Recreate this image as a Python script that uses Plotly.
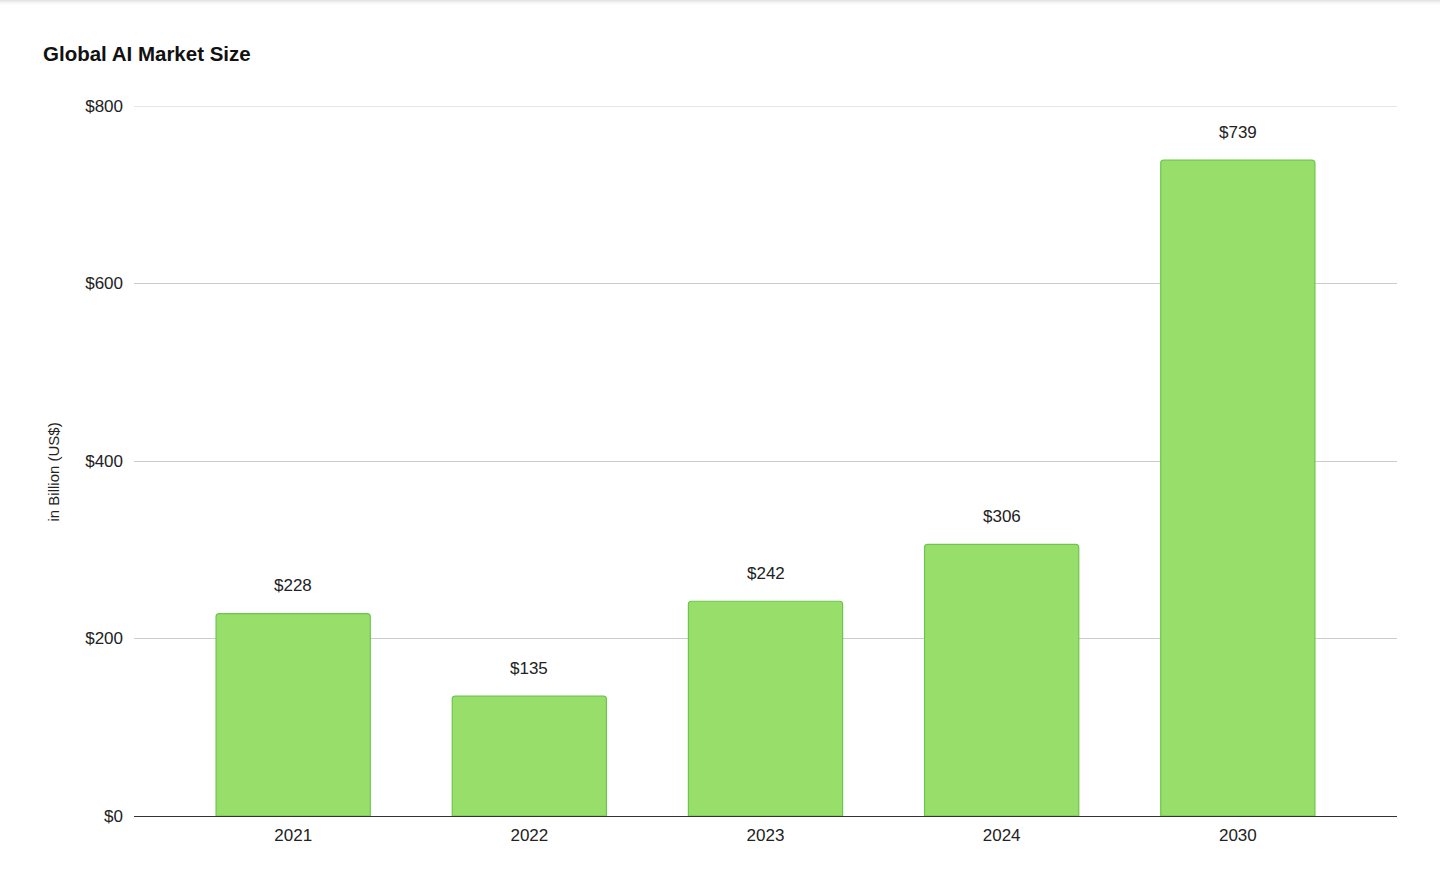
import plotly.graph_objects as go

# data
years = ["2021", "2022", "2023", "2024", "2030"]
market_size = [228, 135, 242, 306, 739]
tick_vals = [0, 200, 400, 600, 800]
tick_text = ["$0", "$200", "$400", "$600", "$800"]

font_name = "Liberation Sans, Arial, sans-serif"

fig = go.Figure()
fig.add_trace(go.Bar(
    x=years,
    y=market_size,
    marker=dict(color="#97de6a", line=dict(color="#6cc64b", width=1.2), cornerradius=3),
    width=0.653,
    hoverinfo="x+y",
))

# value labels above each bar (category index, so "2021" is not read as a number)
for i, val in enumerate(market_size):
    fig.add_annotation(
        x=i, y=val, text=f"${val}", showarrow=False,
        yanchor="middle", yshift=28,
        font=dict(family=font_name, size=17, color="#222222"),
    )

# y axis title
fig.add_annotation(
    xref="paper", yref="paper", x=-0.0645, y=0.4845, xanchor="center", yanchor="middle",
    text="in Billion (US$)", textangle=-90, showarrow=False,
    font=dict(family=font_name, size=15, color="#222222"),
)

# top gridline drawn as a shape so it is not dropped at the range edge
fig.add_shape(
    type="line", xref="paper", yref="y", x0=0, x1=1, y0=800, y1=800,
    line=dict(color="#cccccc", width=1), layer="below",
)

# faint shadow along the top edge of the page
for i, op in enumerate([0.10, 0.07, 0.045, 0.025, 0.01]):
    fig.add_shape(
        type="line", xref="paper", yref="paper",
        x0=-1, x1=2, y0=1 + (106 - i - 0.5) / 710, y1=1 + (106 - i - 0.5) / 710,
        line=dict(color=f"rgba(0,0,0,{op})", width=1),
    )

fig.update_layout(
    width=1440,
    height=889,
    paper_bgcolor="white",
    plot_bgcolor="white",
    margin=dict(l=134, r=43, t=106, b=73),
    title=dict(
        text="<b>Global AI Market Size</b>",
        x=43 / 1440, xanchor="left", xref="container",
        y=1 - 54 / 889, yanchor="middle", yref="container",
        font=dict(family=font_name, size=20.5, color="#111111"),
    ),
    font=dict(family=font_name, size=17, color="#222222"),
    showlegend=False,
    xaxis=dict(
        type="category",
        range=[-0.674, 4.674],
        showgrid=False,
        showline=True,
        linecolor="#333333",
        linewidth=1,
        ticks="",
        ticklabelstandoff=4,
        tickfont=dict(family=font_name, size=17, color="#222222"),
    ),
    yaxis=dict(
        range=[0, 800],
        tickvals=tick_vals,
        ticktext=tick_text,
        showgrid=True,
        gridcolor="#cccccc",
        gridwidth=1,
        zeroline=False,
        ticks="",
        ticklabelstandoff=10,
        tickfont=dict(family=font_name, size=17, color="#222222"),
    ),
)

fig.update_xaxes(layer="above traces")

fig.write_html(
    "out.html",
    config={"displayModeBar": False},
    post_script="document.body.style.margin='0px';",
)
